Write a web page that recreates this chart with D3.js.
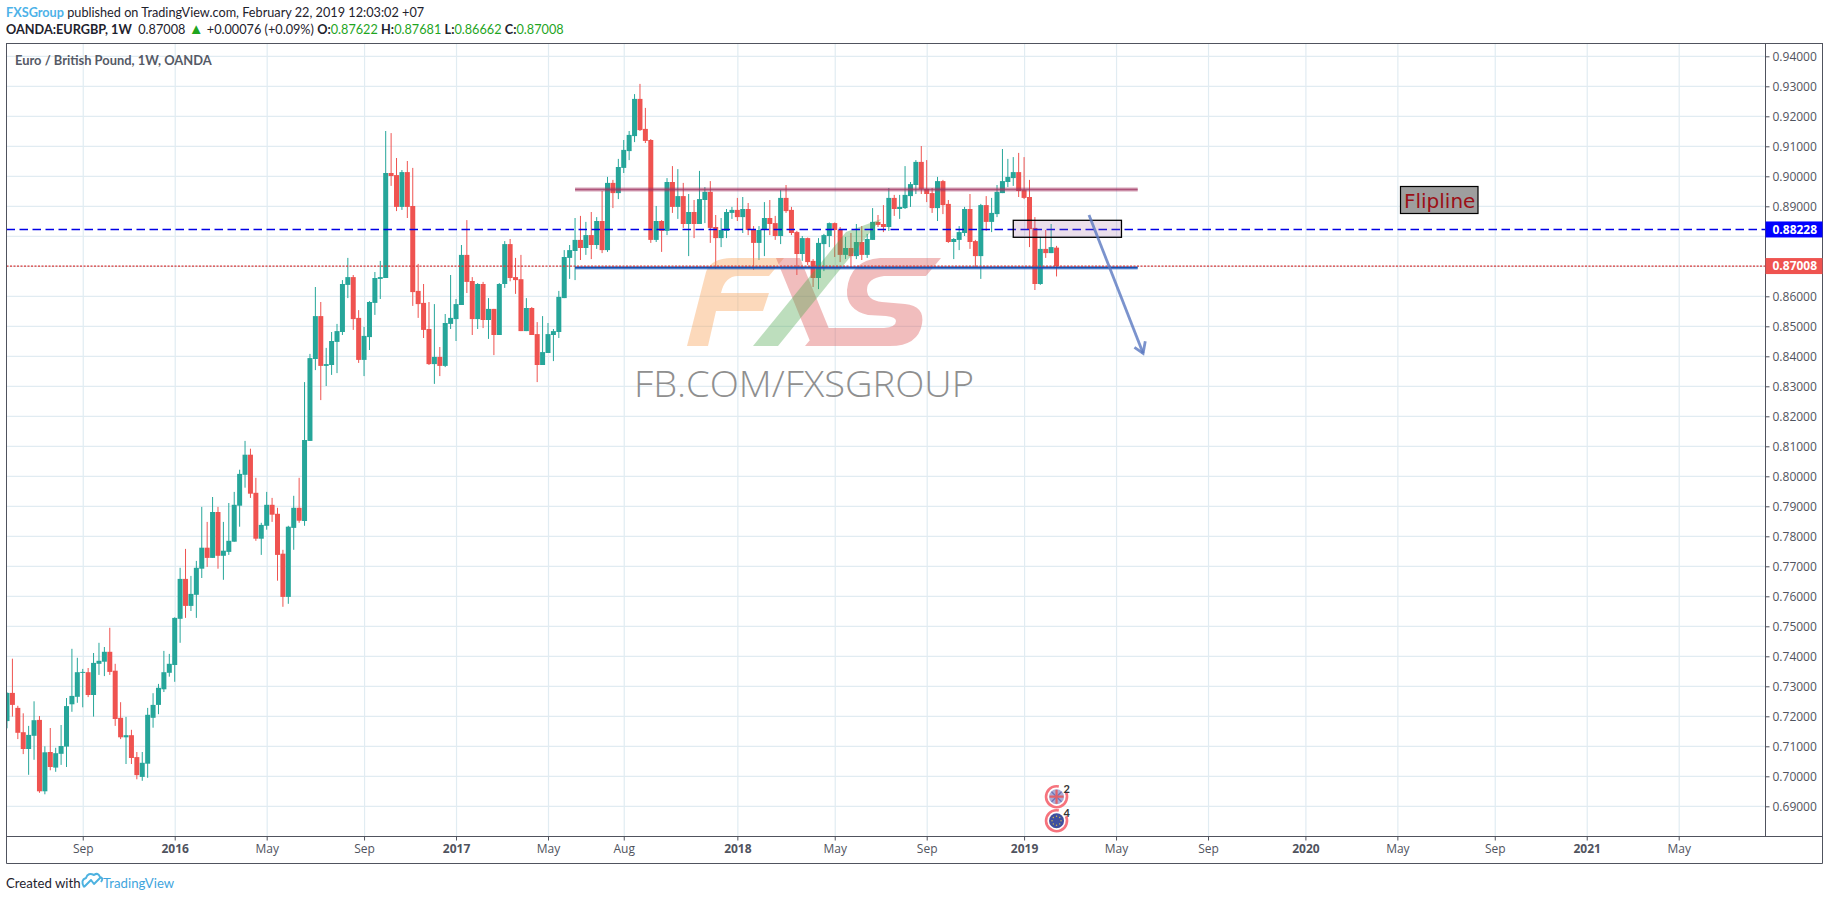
<!DOCTYPE html>
<html>
<head>
<meta charset="utf-8">
<title>EURGBP 1W</title>
<script src="https://cdn.jsdelivr.net/npm/d3@7"></script>
<style>
  html, body { margin: 0; padding: 0; background: #fff; }
  svg { display: block; font-family: "Open Sans", sans-serif; }
</style>
</head>
<body>
<div id="chart"></div>
<script>
// weekly candles, index 0 = first week of June 2015
const opens = [
  .7184,.7278,.7228,.7147,.7091,.7135,.7188,.6950,.7081,.7029,
  .7075,.7099,.7240,.7265,.7345,.7347,.7271,.7375,.7382,.7415,
  .7352,.7195,.7130,.7137,.7064,.6998,.7042,.7195,.7238,.7290,
  .7345,.7371,.7525,.7658,.7568,.7605,.7692,.7762,.7728,.7881,
  .7735,.7748,.7782,.7902,.8005,.8072,.7945,.7792,.7835,.7905,
  .7875,.7742,.7598,.7828,.7895,.7851,.8118,.8391,.8534,.8368,
  .8371,.8448,.8481,.8638,.8664,.8528,.8388,.8464,.8578,.8658,
  .8661,.9011,.9004,.8898,.9014,.8901,.8618,.8578,.8491,.8374,
  .8398,.8368,.8508,.8524,.8571,.8738,.8651,.8524,.8641,.8521,
  .8558,.8471,.8641,.8774,.8664,.8657,.8484,.8561,.8474,.8371,
  .8411,.8471,.8481,.8594,.8728,.8751,.8788,.8761,.8804,.8771,
  .8851,.8754,.8978,.8944,.9028,.9084,.9134,.9258,.9158,.9121,
  .8788,.8851,.8818,.8981,.8898,.8934,.8841,.8881,.8841,.8921,
  .8948,.8831,.8794,.8818,.8878,.8888,.8864,.8891,.8821,.8778,
  .8821,.8861,.8844,.8801,.8928,.8888,.8814,.8741,.8794,.8718,
  .8661,.8774,.8801,.8844,.8821,.8738,.8761,.8734,.8781,.8738,
  .8788,.8848,.8841,.8831,.8928,.8891,.8894,.8934,.8971,.9048,
  .8958,.8944,.8894,.8984,.8908,.8781,.8788,.8811,.8891,.8784,
  .8734,.8904,.8848,.8874,.8944,.8981,.8994,.9014,.8954,.8931,
  .8828,.8641,.8758,.8744,.87622];
const highs = [
  .7280,.7392,.7235,.7210,.7168,.7250,.7201,.7100,.7161,.7095,
  .7171,.7261,.7425,.7395,.7358,.7361,.7411,.7445,.7431,.7495,
  .7375,.7247,.7198,.7155,.7081,.7081,.7228,.7277,.7308,.7418,
  .7408,.7530,.7695,.7758,.7668,.7718,.7898,.7848,.7931,.7898,
  .7848,.7911,.7948,.8022,.8118,.8092,.7995,.7845,.7948,.7928,
  .7895,.7755,.7835,.7935,.7995,.8314,.8408,.8631,.8581,.8428,
  .8481,.8508,.8654,.8728,.8671,.8554,.8498,.8584,.8681,.8718,
  .9151,.9144,.9061,.9021,.9051,.9028,.8708,.8641,.8581,.8574,
  .8431,.8541,.8671,.8591,.8771,.8854,.8664,.8644,.8648,.8594,
  .8558,.8644,.8784,.8791,.8728,.8738,.8594,.8564,.8514,.8534,
  .8511,.8491,.8618,.8754,.8771,.8861,.8868,.8848,.8881,.8864,
  .8951,.8998,.8988,.9058,.9121,.9151,.9274,.9308,.9228,.9124,
  .8901,.8854,.8994,.9034,.9024,.8978,.8941,.8921,.9018,.8964,
  .8984,.8871,.8861,.8891,.8898,.8928,.8931,.8911,.8834,.8834,
  .8914,.8921,.8868,.8954,.8971,.8898,.8818,.8801,.8796,.8724,
  .8794,.8808,.8846,.8846,.8831,.8798,.8811,.8841,.8834,.8808,
  .8894,.8871,.8904,.8961,.8938,.8938,.9034,.8981,.9054,.9101,
  .9054,.8961,.8998,.8988,.8921,.8794,.8834,.8898,.8941,.8788,
  .8908,.8934,.8928,.8971,.9091,.9058,.9064,.9078,.9064,.8988,
  .8864,.8798,.8821,.8841,.87681];
const lows = [
  .7160,.7199,.7124,.7074,.7005,.7055,.6945,.6940,.7020,.7015,
  .7038,.7031,.7215,.7245,.7230,.7264,.7199,.7338,.7334,.7338,
  .7168,.7124,.7041,.7041,.6990,.6985,.6995,.7162,.7207,.7281,
  .7332,.7315,.7445,.7528,.7551,.7528,.7661,.7698,.7728,.7692,
  .7655,.7738,.7782,.7832,.7962,.7928,.7785,.7738,.7822,.7848,
  .7652,.7565,.7575,.7755,.7845,.7835,.8118,.8354,.8254,.8301,
  .8338,.8344,.8471,.8594,.8488,.8378,.8334,.8421,.8538,.8591,
  .8661,.8968,.8884,.8888,.8861,.8568,.8528,.8461,.8371,.8308,
  .8334,.8364,.8491,.8451,.8571,.8611,.8471,.8491,.8494,.8458,
  .8404,.8471,.8628,.8650,.8608,.8484,.8484,.8471,.8314,.8371,
  .8411,.8384,.8461,.8594,.8658,.8654,.8721,.8738,.8724,.8758,
  .8744,.8748,.8894,.8924,.9011,.9054,.9114,.9151,.9111,.8778,
  .8781,.8748,.8804,.8878,.8858,.8828,.8734,.8794,.8841,.8844,
  .8778,.8691,.8764,.8794,.8858,.8851,.8811,.8804,.8688,.8721,
  .8734,.8804,.8788,.8774,.8878,.8804,.8671,.8718,.8704,.8631,
  .8624,.8684,.8764,.8731,.8714,.8724,.8704,.8724,.8721,.8728,
  .8788,.8831,.8814,.8818,.8868,.8858,.8891,.8898,.8941,.8941,
  .8914,.8878,.8851,.8874,.8778,.8724,.8754,.8801,.8758,.8698,
  .8658,.8818,.8814,.8864,.8944,.8964,.8968,.8931,.8924,.8764,
  .8621,.8638,.8728,.8744,.86662];
const closes = [
  .7278,.7238,.7145,.7091,.7138,.7187,.6950,.7080,.7031,.7077,
  .7101,.7234,.7268,.7347,.7348,.7271,.7378,.7385,.7415,.7348,
  .7191,.7130,.7137,.7061,.7004,.7045,.7205,.7238,.7295,.7347,
  .7375,.7528,.7658,.7568,.7608,.7695,.7762,.7728,.7881,.7735,
  .7752,.7785,.7905,.8008,.8072,.7942,.7792,.7838,.7905,.7872,
  .7738,.7598,.7832,.7895,.7852,.8121,.8394,.8534,.8368,.8374,
  .8451,.8484,.8641,.8664,.8524,.8388,.8468,.8581,.8661,.8664,
  .9011,.9001,.8898,.9014,.8898,.8614,.8574,.8488,.8374,.8398,
  .8368,.8511,.8528,.8574,.8738,.8648,.8524,.8641,.8521,.8558,
  .8471,.8641,.8774,.8661,.8654,.8484,.8561,.8471,.8371,.8414,
  .8474,.8484,.8598,.8731,.8754,.8788,.8761,.8804,.8771,.8851,
  .8754,.8978,.8944,.9031,.9088,.9138,.9258,.9154,.9118,.8788,
  .8851,.8818,.8981,.8898,.8934,.8841,.8881,.8841,.8924,.8948,
  .8828,.8794,.8821,.8881,.8888,.8864,.8891,.8821,.8778,.8821,
  .8861,.8841,.8801,.8928,.8884,.8811,.8741,.8794,.8714,.8661,
  .8778,.8804,.8844,.8821,.8738,.8761,.8734,.8781,.8738,.8791,
  .8848,.8838,.8831,.8928,.8891,.8898,.8938,.8974,.9048,.8958,
  .8941,.8894,.8984,.8904,.8781,.8791,.8814,.8891,.8781,.8734,
  .8904,.8848,.8878,.8948,.8984,.8998,.9014,.8951,.8928,.8824,
  .8641,.8758,.8744,.8764,.87008];

const priceTicks = [.69,.70,.71,.72,.73,.74,.75,.76,.77,.78,.79,.80,.81,.82,.83,.84,.85,.86,.89,.90,.91,.92,.93,.94];
const gridPrices = [.69,.70,.71,.72,.73,.74,.75,.76,.77,.78,.79,.80,.81,.82,.83,.84,.85,.86,.87,.88,.89,.90,.91,.92,.93,.94];
const timeBars = [14,31,48,66,83,100,114,135,153,170,188,205,222,240,257,275,292,309];
const timeLabels = ["Sep","2016","May","Sep","2017","May","Aug","2018","May","Sep","2019","May","Sep","2020","May","Sep","2021","May"];

// drawings, [bar, price]
const resistance = [[105, .8956], [209, .8956]];
const support = [[105, .8695], [209, .8695]];
const lastHigh = .88228;
const lastClose = .87008;
const flipZone = [[186, .88533], [206, .87967]];
const arrowLine = [[200, .8871], [210, .8410]];
const arrowHead = [[208.4, .8430], [210, .8410], [210.4, .8450]];

const paneLeft = 6.5, paneRight = 1765.5, paneTop = 43.5, paneBottom = 836.5, axisRight = 1822.5, footerLine = 863.5;
const green = "#26a69a", red = "#ef5350", gridColor = "#e1ecf2", frame = "#50535e";
const textFont = "Lato";

const x = d3.scaleLinear().domain([0, 100]).range([7, 548]);
const y = d3.scaleLinear().domain([.80, .94]).range([476.3, 56.3]);

const svg = d3.select("#chart").append("svg").attr("width", 1828).attr("height", 900);
svg.append("defs").append("clipPath").attr("id", "pane").append("rect")
  .attr("x", paneLeft).attr("y", paneTop).attr("width", paneRight - paneLeft).attr("height", paneBottom - paneTop);

const pane = svg.append("g").attr("clip-path", "url(#pane)");

// grid
pane.append("g").selectAll("line").data(gridPrices).join("line")
  .attr("x1", paneLeft).attr("x2", paneRight)
  .attr("y1", d => y(d)).attr("y2", d => y(d))
  .attr("stroke", gridColor).attr("stroke-width", 1.2);
pane.append("g").selectAll("line").data(timeBars).join("line")
  .attr("x1", d => x(d) + .5).attr("x2", d => x(d) + .5)
  .attr("y1", paneTop).attr("y2", paneBottom)
  .attr("stroke", gridColor).attr("stroke-width", 1.2);

// candles
const bars = d3.range(opens.length);
const isUp = i => closes[i] >= opens[i];
pane.append("g").selectAll("line").data(bars).join("line")
  .attr("x1", i => x(i)).attr("x2", i => x(i))
  .attr("y1", i => y(highs[i])).attr("y2", i => y(lows[i]))
  .attr("stroke", i => isUp(i) ? green : red).attr("stroke-width", 1);
pane.append("g").selectAll("rect").data(bars).join("rect")
  .attr("x", i => x(i) - 2.5).attr("width", 5)
  .attr("y", i => Math.min(y(opens[i]), y(closes[i])))
  .attr("height", i => Math.max(1, Math.abs(y(opens[i]) - y(closes[i]))))
  .attr("fill", i => isUp(i) ? green : red);

// FXS watermark over the candles
const wm = pane.append("g");
wm.append("path").attr("fill", "#f9a45c").attr("opacity", .42)
  .attr("d", "M687 346 L706 272 Q711 258 732 258 L784 258 L769 276 L738 276 Q725 276 721 293 L769 293 L763 311 L716 311 L708 346 Z");
wm.append("path").attr("fill", "#dc5a5a").attr("opacity", .4)
  .attr("d", "M776 258 L800 258 L836 346 L812 346 Z M880 258 L941 258 L926 276 L884 276 Q867 278 867 290 Q867 300 882 302 L905 304 Q925 306 922 324 Q918 346 890 346 L805 346 L820 328 L884 328 Q896 327 896 321 Q896 317 886 316 L868 315 Q846 310 847 290 Q850 260 880 258 Z");
wm.append("path").attr("fill", "#52a852").attr("opacity", .38)
  .attr("d", "M753 346 L778 346 L881 219 L846 232 Z");
wm.append("text").attr("x", 634).attr("y", 397).attr("font-size", 37).attr("font-weight", 300)
  .attr("fill", "#8f8f8f").attr("textLength", 340)
  .attr("lengthAdjust", "spacingAndGlyphs").text("FB.COM/FXSGROUP");

// horizontal levels and drawings
const levelLine = d3.line().x(d => x(d[0])).y(d => y(d[1]));
pane.append("path").datum(resistance).attr("d", levelLine).attr("fill", "none")
  .attr("stroke", "#a0325f").attr("stroke-opacity", .45).attr("stroke-width", 4);
pane.append("path").datum(resistance).attr("d", levelLine).attr("fill", "none")
  .attr("stroke", "#a0325f").attr("stroke-opacity", .7).attr("stroke-width", 1.5);
pane.append("path").datum(support).attr("d", levelLine).attr("fill", "none")
  .attr("stroke", "#1f5fc4").attr("stroke-opacity", .55).attr("stroke-width", 3.5);
pane.append("path").datum(support).attr("d", levelLine).attr("fill", "none")
  .attr("stroke", "#1850b0").attr("stroke-width", 1.5);
pane.append("line").attr("x1", paneLeft).attr("x2", paneRight)
  .attr("y1", y(lastHigh)).attr("y2", y(lastHigh))
  .attr("stroke", "#0000e6").attr("stroke-width", 1.4).attr("stroke-dasharray", "8.5 4.5");
pane.append("line").attr("x1", paneLeft).attr("x2", paneRight)
  .attr("y1", y(lastClose)).attr("y2", y(lastClose))
  .attr("stroke", "#d93a38").attr("stroke-width", 1.2).attr("stroke-dasharray", "2 1.5");

pane.append("rect")
  .attr("x", x(flipZone[0][0])).attr("width", x(flipZone[1][0]) - x(flipZone[0][0]))
  .attr("y", y(flipZone[0][1])).attr("height", y(flipZone[1][1]) - y(flipZone[0][1]))
  .attr("fill", "#9b5f9b").attr("fill-opacity", .2)
  .attr("stroke", "#000").attr("stroke-width", 1.3);
pane.append("path").datum(arrowLine).attr("d", levelLine).attr("fill", "none")
  .attr("stroke", "#5a78c0").attr("stroke-opacity", .8).attr("stroke-width", 2.8);
pane.append("path").datum(arrowHead).attr("d", levelLine).attr("fill", "none")
  .attr("stroke", "#5a78c0").attr("stroke-opacity", .8).attr("stroke-width", 2.8);

// Flipline note
svg.append("rect").attr("x", 1400.5).attr("y", 186.5).attr("width", 77.5).attr("height", 27)
  .attr("fill", "#9e9e9e").attr("stroke", "#000").attr("stroke-width", 1.2);
svg.append("text").attr("x", 1404).attr("y", 207.5).attr("font-family", "DejaVu Sans")
  .attr("font-size", 20).attr("fill", "#9c0f16").text("Flipline");

// economic event icons
const eventIcon = (cy, count) => {
  const g = svg.append("g").attr("transform", `translate(${x(194)},${cy})`);
  g.append("circle").attr("r", 10.5).attr("fill", "#fff").attr("stroke", "#f6737d").attr("stroke-width", 2.6)
    .attr("stroke-dasharray", "56 10").attr("transform", "rotate(-25)");
  svg.append("text").attr("x", x(194) + 7).attr("y", cy - 4).attr("font-size", 11).attr("font-family", textFont)
    .attr("font-weight", 700).attr("fill", "#333").text(count);
  return g;
};
const uk = eventIcon(796.7, "2");
uk.append("circle").attr("r", 7.5).attr("fill", "#a9add6");
uk.append("path").attr("d", "M-5-5L5 5M-5 5L5-5").attr("stroke", "#6f76b8").attr("stroke-width", 1.4);
uk.append("path").attr("d", "M-7 0H7M0-7V7").attr("stroke", "#e0606a").attr("stroke-width", 2.2);
const eu = eventIcon(820.7, "4");
eu.append("circle").attr("r", 7.5).attr("fill", "#3f4f9f");
eu.selectAll(".star").data(d3.range(8)).join("circle")
  .attr("cx", d => 4.5 * Math.cos(d * Math.PI / 4)).attr("cy", d => 4.5 * Math.sin(d * Math.PI / 4))
  .attr("r", .7).attr("fill", "#d4b94a");

// frame
svg.append("rect").attr("x", paneLeft).attr("y", paneTop).attr("width", axisRight - paneLeft).attr("height", paneBottom - paneTop)
  .attr("fill", "none").attr("stroke", frame);
svg.append("line").attr("x1", paneRight).attr("x2", paneRight).attr("y1", paneTop).attr("y2", paneBottom).attr("stroke", frame);
svg.append("path").attr("fill", "none").attr("stroke", frame)
  .attr("d", `M${paneLeft} ${paneBottom}V${footerLine}H${axisRight}V${paneBottom}`);

// price axis
const priceAxis = svg.append("g").attr("transform", `translate(${paneRight},0)`)
  .call(d3.axisRight(y).tickValues(priceTicks).tickFormat(d3.format(".5f")).tickSize(4).tickPadding(3));
priceAxis.select(".domain").remove();
priceAxis.selectAll("line").attr("stroke", frame);
priceAxis.selectAll("text").attr("font-family", "Open Sans").attr("font-size", 12).attr("fill", "#50535e");

const priceTag = (price, color) => {
  svg.append("rect").attr("x", paneRight).attr("y", y(price) - 8).attr("width", axisRight - paneRight).attr("height", 16).attr("fill", color);
  svg.append("text").attr("x", paneRight + 7).attr("y", y(price) + 4.2).attr("font-size", 12).attr("font-weight", 700)
    .attr("fill", "#fff").text(d3.format(".5f")(price));
};
priceTag(lastHigh, "#0000ff");
priceTag(lastClose, red);

// time axis
const timeAxis = svg.append("g").attr("transform", `translate(0,${paneBottom})`)
  .call(d3.axisBottom(x).tickValues(timeBars).tickFormat((d, i) => timeLabels[i]).tickSize(4).tickPadding(4));
timeAxis.select(".domain").remove();
timeAxis.selectAll("line").attr("stroke", frame);
timeAxis.selectAll("text").attr("font-family", "Open Sans").attr("font-size", 12).attr("fill", "#50535e")
  .attr("font-weight", (d, i) => /^\d+$/.test(timeLabels[i]) ? 700 : 400);

// header
const head = svg.append("text").attr("x", 6).attr("y", 17).attr("font-size", 12.7).attr("font-family", textFont).attr("fill", "#1e222d");
head.append("tspan").attr("fill", "#4db2e8").attr("font-weight", 700).text("FXSGroup");
head.append("tspan").text(" published on TradingView.com, February 22, 2019 12:03:02 +07");

const quote = svg.append("text").attr("x", 6).attr("y", 34).attr("font-size", 12.7).attr("font-family", textFont).attr("fill", "#1e222d");
quote.append("tspan").attr("font-weight", 700).text("OANDA:EURGBP, 1W");
quote.append("tspan").text("\u00a0\u00a00.87008 ");
quote.append("tspan").attr("fill", "#1fa51f").attr("font-size", 15).text("▲");
quote.append("tspan").text(" +0.00076 (+0.09%) ");
[["O:", "0.87622"], ["H:", "0.87681"], ["L:", "0.86662"], ["C:", "0.87008"]].forEach(([k, v]) => {
  quote.append("tspan").attr("font-weight", 700).text(k);
  quote.append("tspan").attr("fill", "#1fa51f").text(v + " ");
});

svg.append("text").attr("x", 15).attr("y", 65).attr("font-size", 12.9).attr("font-family", textFont).attr("font-weight", 700)
  .attr("fill", "#555a66").text("Euro / British Pound, 1W, OANDA");

// footer
svg.append("text").attr("x", 6).attr("y", 888).attr("font-size", 13.2).attr("font-family", textFont).attr("fill", "#1e222d").text("Created with");
svg.append("path").attr("fill", "none").attr("stroke", "#4db2e0").attr("stroke-width", 2).attr("stroke-linejoin", "round")
  .attr("d", "M84 887 Q80 880 86 878 Q88 872 94 875 Q98 872 100 877 Q104 878 101 882 M84 887 L91 880 L94 884 L101 877");
svg.append("text").attr("x", 103).attr("y", 888).attr("font-size", 13.2).attr("font-family", textFont).attr("fill", "#3fa5dd").text("TradingView");
</script>
</body>
</html>
